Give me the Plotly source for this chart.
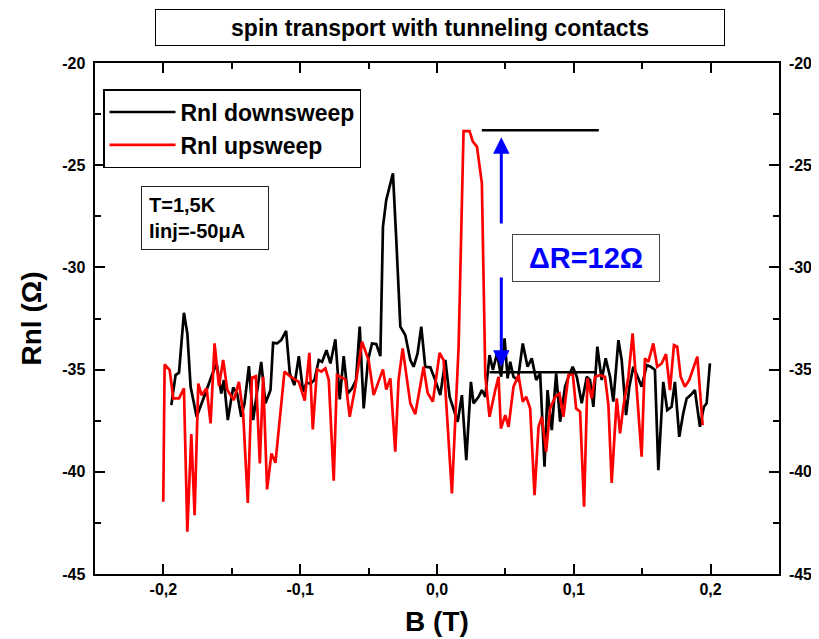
import plotly.graph_objects as go

# black curve: Rnl downsweep
down_b = [-0.1942, -0.1911, -0.1886, -0.1850, -0.1825, -0.1801, -0.1757, -0.1728, -0.1684, -0.1650,
          -0.1611, -0.1577, -0.1558, -0.1529, -0.1490, -0.1461, -0.1431, -0.1407, -0.1375, -0.1344,
          -0.1315, -0.1285, -0.1254, -0.1217, -0.1198, -0.1169, -0.1139, -0.1103, -0.1076, -0.1042,
          -0.1010, -0.0979, -0.0954, -0.0925, -0.0896, -0.0864, -0.0840, -0.0808, -0.0779, -0.0743,
          -0.0711, -0.0682, -0.0653, -0.0621, -0.0592, -0.0565, -0.0536, -0.0504, -0.0475, -0.0444,
          -0.0414, -0.0395, -0.0371, -0.0346, -0.0322, -0.0298, -0.0268, -0.0232, -0.0195, -0.0171,
          -0.0142, -0.0115, -0.0086, -0.0049, -0.0013, 0.0024, 0.0061, 0.0092, 0.0151, 0.0182,
          0.0214, 0.0248, 0.0267, 0.0304, 0.0328, 0.0353, 0.0384, 0.0409, 0.0438, 0.0469,
          0.0494, 0.0516, 0.0535, 0.0559, 0.0591, 0.0627, 0.0662, 0.0693, 0.0725, 0.0754,
          0.0786, 0.0808, 0.0839, 0.0871, 0.0900, 0.0936, 0.0961, 0.0992, 0.1022, 0.1058,
          0.1095, 0.1119, 0.1143, 0.1172, 0.1204, 0.1233, 0.1265, 0.1289, 0.1326, 0.1350,
          0.1382, 0.1406, 0.1435, 0.1467, 0.1496, 0.1533, 0.1562, 0.1593, 0.1618, 0.1654,
          0.1683, 0.1715, 0.1739, 0.1771, 0.1800, 0.1825, 0.1854, 0.1885, 0.1922, 0.1951,
          0.1971, 0.1995]
down_r = [-36.74, -35.27, -35.15, -32.22, -33.23, -35.84, -37.31, -36.82, -36.00, -35.35,
          -34.70, -36.17, -35.51, -37.47, -35.87, -36.17, -37.31, -36.65, -34.83, -37.47,
          -36.00, -34.62, -36.65, -36.00, -33.69, -33.72, -33.56, -33.10, -35.19, -35.76,
          -34.34, -36.08, -35.64, -35.68, -35.51, -34.53, -34.62, -34.05, -34.70, -33.52,
          -36.46, -34.34, -36.17, -35.92, -35.51, -32.90, -36.90, -34.53, -33.72, -33.75,
          -34.34, -28.00, -26.70, -26.10, -25.40, -28.60, -32.90, -33.31, -34.53, -34.86,
          -34.21, -32.90, -34.86, -34.89, -35.51, -36.25, -34.53, -36.33, -37.55, -36.25,
          -39.43, -35.60, -36.65, -36.33, -36.00, -36.33, -34.29, -35.02, -34.21, -35.35,
          -33.47, -35.43, -34.62, -35.35, -35.51, -33.72, -34.86, -34.45, -35.51, -35.19,
          -39.75, -36.00, -37.96, -35.19, -37.55, -35.84, -35.35, -34.86, -35.35, -36.65,
          -35.35, -35.51, -36.82, -33.88, -35.51, -34.45, -35.35, -36.57, -33.56, -34.53,
          -37.23, -35.84, -34.86, -35.35, -35.84, -34.78, -34.86, -35.02, -39.92, -35.60,
          -36.98, -36.82, -35.60, -38.29, -37.14, -36.41, -36.25, -36.00, -37.80, -36.82,
          -36.65, -34.70]

# red curve: Rnl upsweep
up_b = [-0.2001, -0.1991, -0.1954, -0.1928, -0.1886, -0.1850, -0.1825, -0.1796, -0.1772, -0.1745,
        -0.1721, -0.1684, -0.1655, -0.1626, -0.1594, -0.1563, -0.1533, -0.1485, -0.1448, -0.1417,
        -0.1383, -0.1353, -0.1324, -0.1295, -0.1271, -0.1242, -0.1210, -0.1181, -0.1115, -0.1071,
        -0.1010, -0.0967, -0.0933, -0.0908, -0.0877, -0.0845, -0.0816, -0.0791, -0.0755, -0.0731,
        -0.0670, -0.0638, -0.0597, -0.0548, -0.0500, -0.0463, -0.0395, -0.0371, -0.0341, -0.0305,
        -0.0281, -0.0251, -0.0195, -0.0159, -0.0098, -0.0069, -0.0030, 0.0019, 0.0048, 0.0109,
        0.0158, 0.0180, 0.0194, 0.0238, 0.0262, 0.0292, 0.0328, 0.0353, 0.0384, 0.0426,
        0.0450, 0.0467, 0.0499, 0.0523, 0.0559, 0.0596, 0.0627, 0.0652, 0.0681, 0.0713,
        0.0742, 0.0766, 0.0798, 0.0827, 0.0864, 0.0895, 0.0924, 0.0961, 0.0992, 0.1017,
        0.1046, 0.1075, 0.1100, 0.1131, 0.1155, 0.1192, 0.1228, 0.1253, 0.1277, 0.1314,
        0.1338, 0.1362, 0.1399, 0.1430, 0.1460, 0.1496, 0.1520, 0.1545, 0.1581, 0.1610,
        0.1642, 0.1674, 0.1703, 0.1732, 0.1756, 0.1781, 0.1812, 0.1844, 0.1903, 0.1942]
up_r = [-41.47, -34.75, -35.02, -36.41, -36.41, -35.92, -42.93, -38.15, -42.12, -35.68,
        -36.25, -35.92, -37.63, -33.72, -35.81, -34.53, -36.00, -36.49, -35.60, -37.14,
        -41.52, -35.40, -35.32, -39.59, -35.35, -40.86, -39.10, -39.56, -35.10, -35.35,
        -35.60, -36.52, -34.18, -37.93, -34.99, -35.10, -34.94, -35.51, -40.44, -35.27,
        -35.48, -37.31, -35.84, -33.64, -34.53, -36.25, -34.99, -35.97, -35.43, -39.02,
        -35.51, -33.96, -36.65, -37.18, -34.86, -36.13, -36.57, -34.18, -34.54, -41.06,
        -33.88, -27.00, -23.33, -23.33, -23.85, -24.09, -25.89, -35.30, -37.31, -36.00,
        -35.35, -37.88, -37.23, -37.80, -35.84, -35.27, -36.57, -36.33, -36.90, -41.14,
        -37.80, -37.31, -39.02, -36.90, -36.33, -36.17, -37.31, -35.27, -35.19, -36.90,
        -37.06, -41.71, -35.43, -36.41, -35.35, -35.27, -35.35, -36.74, -40.54, -36.41,
        -38.12, -36.82, -35.35, -33.23, -36.00, -39.26, -34.45, -34.62, -33.72, -34.86,
        -34.70, -34.24, -36.00, -33.80, -33.88, -35.35, -35.84, -35.51, -34.37, -37.72]

# delta R marker levels
high_b = [0.0328, 0.1183]
high_r = [-23.29, -23.29]
low_b = [0.0384, 0.1155]
low_r = [-35.13, -35.13]
arrow_b = 0.047
arrow_up = [-27.93, -23.63]
arrow_down = [-30.42, -34.86]

# ticks and labels
x_ticks = [-0.2, -0.1, 0.0, 0.1, 0.2]
x_labels = ['-0,2', '-0,1', '0,0', '0,1', '0,2']
x_minor = [-0.25, -0.15, -0.05, 0.05, 0.15, 0.25]
y_ticks = [-45, -40, -35, -30, -25, -20]
y_labels = ['-45', '-40', '-35', '-30', '-25', '-20']
y_minor = [-42.5, -37.5, -32.5, -27.5, -22.5]

FONT = 'Arial, Liberation Sans, sans-serif'
tick_font = dict(family=FONT, size=16, color='black', weight='bold')
title_font = dict(family=FONT, size=28, color='black', weight='bold')

fig = go.Figure()
fig.add_trace(go.Scatter(x=down_b, y=down_r, mode='lines', name='Rnl downsweep',
                         line=dict(color='black', width=2.7)))
fig.add_trace(go.Scatter(x=up_b, y=up_r, mode='lines', name='Rnl upsweep',
                         line=dict(color='#ff0000', width=2.7)))
# the two level lines live on the twin axes (same ranges) so the right labels get drawn
fig.add_trace(go.Scatter(x=high_b, y=high_r, mode='lines', showlegend=False,
                         xaxis='x2', yaxis='y2',
                         line=dict(color='black', width=2.7), hoverinfo='skip'))
fig.add_trace(go.Scatter(x=low_b, y=low_r, mode='lines', showlegend=False,
                         xaxis='x2', yaxis='y2',
                         line=dict(color='black', width=2.7), hoverinfo='skip'))

for tail, tip in (arrow_up, arrow_down):
    fig.add_annotation(x=arrow_b, y=tip, ax=arrow_b, ay=tail, xref='x', yref='y',
                       axref='x', ayref='y', text='', showarrow=True,
                       arrowhead=2, arrowsize=1.1, arrowwidth=3, arrowcolor='#0000ff')

fig.add_annotation(x=0.718, y=0.619, xref='paper', yref='paper', showarrow=False,
                   xanchor='center', yanchor='middle',
                   text='ΔR=12Ω', font=dict(family=FONT, size=29, color='#0000ff', weight='bold'),
                   bordercolor='#444', borderwidth=1, borderpad=5, bgcolor='white',
                   width=136, height=36)

fig.add_annotation(x=0.0673, y=0.760, xref='paper', yref='paper', showarrow=False,
                   xanchor='left', yanchor='top', align='left',
                   text='T=1,5K<br>Iinj=-50μA', font=dict(family=FONT, size=20, color='black', weight='bold'),
                   bordercolor='#222', borderwidth=1, borderpad=7, bgcolor='white',
                   width=112)

fig.add_annotation(x=0.504, y=1.0685, xref='paper', yref='paper', showarrow=False,
                   xanchor='center', yanchor='middle',
                   text='spin transport with tunneling contacts',
                   font=dict(family=FONT, size=23, color='black', weight='bold'),
                   bordercolor='black', borderwidth=1, borderpad=2, width=564, height=31)

frame = dict(showline=True, linewidth=2, linecolor='black', mirror='ticks',
             ticks='inside', ticklen=10, tickwidth=2, tickcolor='black',
             showgrid=False, zeroline=False, automargin=False, tickfont=tick_font)

# the page body has an 8px margin, so the figure is 8px smaller and margins shifted
fig.update_layout(
    width=811, height=631,
    margin=dict(l=87, r=40, t=55, b=65),
    paper_bgcolor='white', plot_bgcolor='rgba(0,0,0,0)',
    showlegend=True,
    legend=dict(x=0.0117, y=0.949, xanchor='left', yanchor='top',
                bordercolor='black', borderwidth=1.5, bgcolor='white',
                font=dict(family=FONT, size=23, color='black', weight='bold'),
                tracegroupgap=0, itemwidth=66),
    xaxis=dict(range=[-0.25, 0.25], tickmode='array', tickvals=x_ticks, ticktext=x_labels,
               minor=dict(ticks='inside', ticklen=6, tickwidth=2, tickcolor='black',
                          tickmode='array', tickvals=x_minor),
               title=dict(text='B (T)', standoff=14, font=title_font),
               **frame),
    yaxis=dict(range=[-45, -20], tickmode='array', tickvals=y_ticks,
               ticktext=[t + ' ' for t in y_labels],
               minor=dict(ticks='inside', ticklen=6, tickwidth=2, tickcolor='black',
                          tickmode='array', tickvals=y_minor),
               title=dict(text='Rnl (Ω)', standoff=12, font=title_font),
               **frame),
    # twin axis pair, hidden x, carrying the right-hand labels
    xaxis2=dict(range=[-0.25, 0.25], anchor='y2', domain=[0, 1], visible=False),
    yaxis2=dict(range=[-45, -20], anchor='x2', side='right', domain=[0, 1],
                tickmode='array', tickvals=y_ticks, ticktext=['  ' + t for t in y_labels],
                ticks='', showline=False, showgrid=False, zeroline=False,
                automargin=False, tickfont=tick_font),
)

fig.write_html('out.html')
